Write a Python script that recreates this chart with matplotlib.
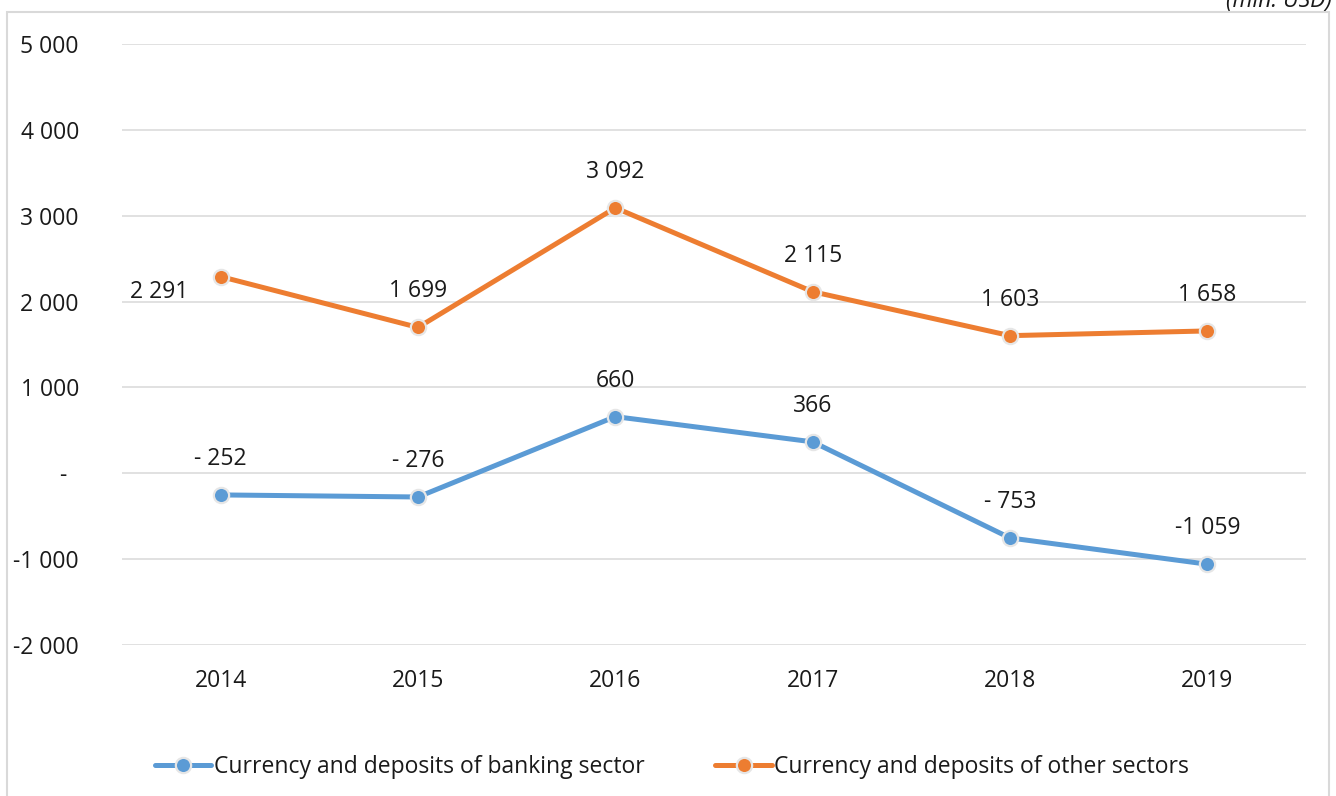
import matplotlib
matplotlib.use("Agg")
import matplotlib.pyplot as plt
from matplotlib.patches import Rectangle

years = ["2014", "2015", "2016", "2017", "2018", "2019"]
banking = [-252, -276, 660, 366, -753, -1059]
other = [2291, 1699, 3092, 2115, 1603, 1658]
yticks = [-2000, -1000, 0, 1000, 2000, 3000, 4000, 5000]
series_names = ["Currency and deposits of banking sector",
                "Currency and deposits of other sectors"]

plt.rcParams['font.family'] = ['Open Sans', 'DejaVu Sans']
FS = 16.5

def acc(v):
    s = f"{abs(v):,}".replace(",", " ")
    if v < 0:
        return ("- " if abs(v) < 1000 else "-") + s
    if v == 0:
        return "-  "
    return s

fig = plt.figure(figsize=(13.36, 7.96), dpi=100)
ax = fig.add_axes([122/1336, 1-645/796, (1306-122)/1336, (645-44)/796])

x = list(range(len(years)))
blue = "#5B9BD5"
orange = "#ED7D31"
for vals, col, name in [(banking, blue, series_names[0]), (other, orange, series_names[1])]:
    ax.plot(x, vals, color=col, lw=3.6, marker='o', markersize=11,
            markerfacecolor=col, markeredgecolor="#E6E6E6", markeredgewidth=1.6,
            label=name, solid_capstyle='round', zorder=3)

for i, v in enumerate(banking):
    ax.annotate(acc(v), (i, v), xytext=(0, 26), textcoords='offset points',
                ha='center', va='center', fontsize=FS, color='#1a1a1a')
for i, v in enumerate(other):
    if i == 0:
        ax.annotate(acc(v), (i, v), xytext=(-44, -11), textcoords='offset points',
                    ha='center', va='center', fontsize=FS, color='#1a1a1a')
    else:
        ax.annotate(acc(v), (i, v), xytext=(0, 26), textcoords='offset points',
                    ha='center', va='center', fontsize=FS, color='#1a1a1a')

ax.set_xlim(-0.5, len(years) - 0.5)
ax.set_ylim(-2000, 5000)
ax.set_yticks(yticks)
ax.set_yticklabels([acc(v) for v in yticks], fontsize=FS, color='#1a1a1a')
ax.set_xticks(x)
ax.set_xticklabels(years, fontsize=FS, color='#1a1a1a')
ax.tick_params(axis='y', length=0, pad=31)
ax.tick_params(axis='x', length=0, pad=17)
ax.grid(axis='y', color='#D9D9D9', lw=1.1)
ax.set_axisbelow(True)
for s in ax.spines.values():
    s.set_visible(False)

leg = fig.legend(loc='center', bbox_to_anchor=(0.503, 0.037), ncol=2, frameon=False,
                 fontsize=FS, handlelength=2.45, handletextpad=0.1, columnspacing=3.1)
for t in leg.get_texts():
    t.set_color('#1a1a1a')

fig.patches.append(Rectangle((7/1336, -0.02), (1329-7)/1336, 1-12/796+0.02,
                             transform=fig.transFigure, fill=False,
                             edgecolor='#D9D9D9', lw=1.5))
fig.text(1332/1336, 1-1/796, "(mln. USD)", ha='right', va='center',
         fontsize=FS, style='italic', color='#1a1a1a')

fig.savefig("out.png", dpi=100)
